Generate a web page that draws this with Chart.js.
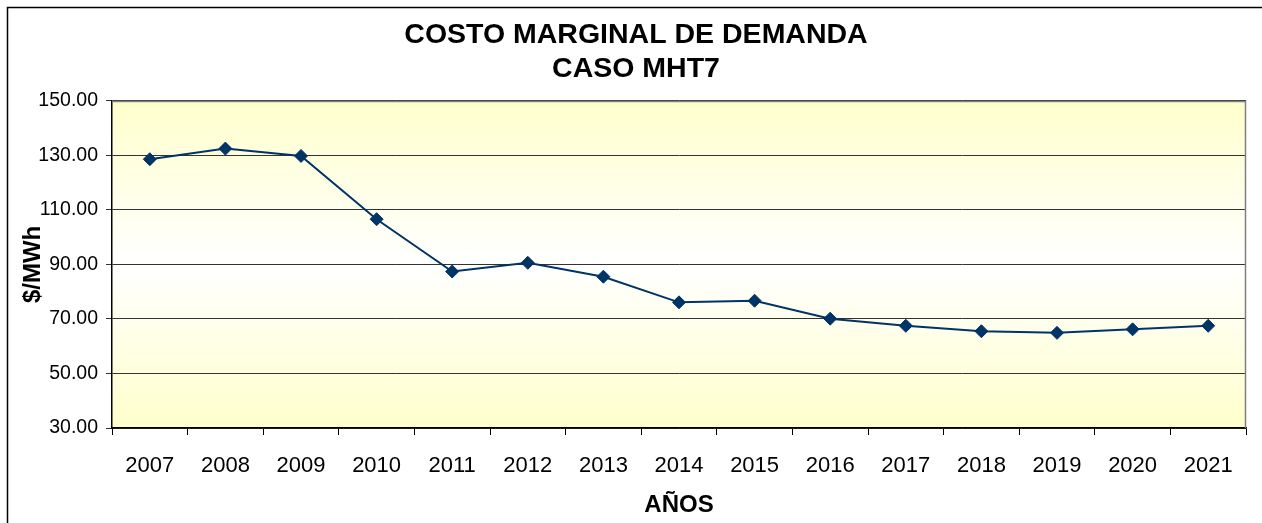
<!DOCTYPE html>
<html>
<head>
<meta charset="utf-8">
<script src="https://cdn.jsdelivr.net/npm/chart.js@4"></script>
<style>
  html, body { margin: 0; padding: 0; background: #fff; }
  #wrap { width: 1262px; height: 523px; }
</style>
</head>
<body>
<div id="wrap"><canvas id="costChart"></canvas></div>
<script>
// data
const years = ['2007', '2008', '2009', '2010', '2011', '2012', '2013', '2014',
               '2015', '2016', '2017', '2018', '2019', '2020', '2021'];
const costValues = [128.6, 132.5, 129.8, 106.6, 87.4, 90.6, 85.5, 76.1,
                    76.7, 70.1, 67.5, 65.5, 64.9, 66.2, 67.5];
const titleLines = ['COSTO MARGINAL DE DEMANDA', 'CASO MHT7'];
const yMin = 30, yMax = 150, yStep = 20;

const fontFamily = 'Liberation Sans, Arial, sans-serif';

// gradient background, outer frame and grey plot border
const chartDecor = {
    id: 'chartDecor',
    beforeDraw(chart) {
        const {ctx, chartArea: a} = chart;
        ctx.save();
        ctx.fillStyle = '#ffffff';
        ctx.fillRect(0, 0, chart.width, chart.height);
        const g = ctx.createLinearGradient(0, a.top, 0, a.bottom);
        g.addColorStop(0, '#ffffcc');
        g.addColorStop(0.5, '#ffffff');
        g.addColorStop(1, '#ffffcc');
        ctx.fillStyle = g;
        ctx.fillRect(a.left, a.top, a.right - a.left, a.bottom - a.top);
        ctx.strokeStyle = '#000';
        ctx.lineWidth = 1.5;
        ctx.strokeRect(7.5, 7.5, chart.width + 10, chart.height + 10);
        ctx.restore();
    },
    beforeDatasetsDraw(chart) {
        const {ctx, chartArea: a} = chart;
        ctx.save();
        ctx.strokeStyle = '#808080';
        ctx.lineWidth = 1.5;
        ctx.beginPath();
        ctx.moveTo(a.left, a.top + 0.5);
        ctx.lineTo(a.right - 0.5, a.top + 0.5);
        ctx.lineTo(a.right - 0.5, a.bottom);
        ctx.stroke();
        ctx.restore();
    }
};

const costCtx = document.getElementById('costChart').getContext('2d');

const costChart = new Chart(costCtx, {
    type: 'line',
    data: {
        labels: years,
        datasets: [{
            data: costValues,
            borderColor: '#003366',
            backgroundColor: '#003366',
            borderWidth: 2,
            pointStyle: 'rectRot',
            pointRadius: 6.5,
            pointBorderWidth: 1,
            tension: 0
        }]
    },
    options: {
        responsive: true,
        maintainAspectRatio: false,
        animation: false,
        layout: { padding: { left: 13, right: 3, top: 0, bottom: 0 } },
        plugins: {
            legend: { display: false },
            tooltip: { enabled: false },
            title: {
                display: true,
                text: titleLines,
                color: '#000',
                font: { family: fontFamily, size: 28.5, weight: 'bold', lineHeight: 1.2 },
                padding: { top: 18, bottom: 14.5 }
            }
        },
        scales: {
            x: {
                offset: true,
                grid: {
                    offset: true,
                    drawOnChartArea: false,
                    drawTicks: true,
                    tickLength: 7,
                    color: '#000'
                },
                border: { color: '#000', width: 1.5 },
                ticks: {
                    color: '#000',
                    padding: 18,
                    maxRotation: 0,
                    autoSkip: false,
                    font: { family: fontFamily, size: 22 }
                },
                title: {
                    display: true,
                    text: 'AÑOS',
                    color: '#000',
                    font: { family: fontFamily, size: 24, weight: 'bold', lineHeight: 1.2 },
                    padding: { top: 0, bottom: 3 }
                },
                afterFit(scale) { scale.height = 95; }
            },
            y: {
                min: yMin,
                max: yMax,
                grid: {
                    color: '#333333',
                    lineWidth: 1,
                    tickLength: 6,
                    drawTicks: true
                },
                border: { color: '#000', width: 1.5 },
                ticks: {
                    stepSize: yStep,
                    color: '#000',
                    padding: 8,
                    font: { family: fontFamily, size: 19.5 },
                    callback: v => v.toFixed(2)
                },
                title: {
                    display: true,
                    text: '$/MWh',
                    color: '#000',
                    font: { family: fontFamily, size: 24, weight: 'bold', lineHeight: 1.2 },
                    padding: { top: 6, bottom: 0 }
                },
                afterFit(scale) { scale.width = 99; }
            },
            // empty right-hand axis, only reserves the gap right of the plot
            yRight: {
                position: 'right',
                min: yMin,
                max: yMax,
                grid: { drawOnChartArea: false, drawTicks: false },
                border: { display: false },
                ticks: { display: false },
                afterFit(scale) { scale.width = 13; }
            }
        }
    },
    plugins: [chartDecor]
});
</script>
</body>
</html>
